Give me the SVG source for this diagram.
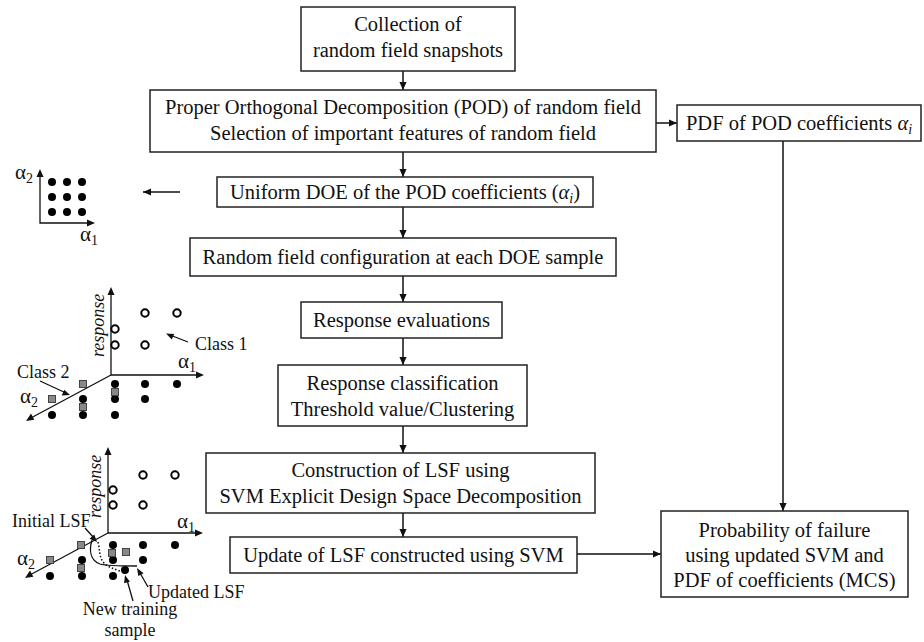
<svg xmlns="http://www.w3.org/2000/svg" width="924" height="642" viewBox="0 0 924 642">
<defs>
<marker id="ah" viewBox="0 0 10 10" refX="10" refY="5" markerWidth="8" markerHeight="8" markerUnits="userSpaceOnUse" orient="auto"><path d="M0,0.5 L10,5 L0,9.5 z" fill="#111"/></marker>
<style>
.box{fill:#fff;stroke:#222;stroke-width:1.5}
.t{font-family:"Liberation Serif","Times New Roman",serif;font-size:20.5px;fill:#111;text-anchor:middle}
.s{font-family:"Liberation Serif","Times New Roman",serif;font-size:18px;fill:#111}
.g{font-family:"Liberation Serif","Times New Roman",serif;font-size:21px;fill:#111}
.sub{font-size:14px}
.c{fill:none;stroke:#111;stroke-width:1.5}
.ax{fill:none;stroke:#111;stroke-width:1.3}
.dot{fill:#000}
.oc{fill:#fff;stroke:#000;stroke-width:2}
.sq{fill:#888;stroke:#444;stroke-width:1}
</style>
</defs>
<rect width="924" height="642" fill="#fff"/>

<g id="connectors">
<line class="c" x1="403" y1="71" x2="403" y2="90" marker-end="url(#ah)"/>
<line class="c" x1="403" y1="152" x2="403" y2="177" marker-end="url(#ah)"/>
<line class="c" x1="403" y1="207" x2="403" y2="238" marker-end="url(#ah)"/>
<line class="c" x1="403" y1="276" x2="403" y2="302" marker-end="url(#ah)"/>
<line class="c" x1="403" y1="338" x2="403" y2="365" marker-end="url(#ah)"/>
<line class="c" x1="403" y1="426" x2="403" y2="453" marker-end="url(#ah)"/>
<line class="c" x1="403" y1="513" x2="403" y2="537" marker-end="url(#ah)"/>
<line class="c" x1="656" y1="123" x2="677" y2="123" marker-end="url(#ah)"/>
<line class="c" x1="783" y1="141" x2="783" y2="511" marker-end="url(#ah)"/>
<line class="c" x1="577" y1="554" x2="661" y2="554" marker-end="url(#ah)"/>
<line class="c" x1="180" y1="192" x2="143" y2="192" marker-end="url(#ah)"/>
</g>

<g id="n1"><rect class="box" x="301" y="7" width="214" height="64"/>
<text class="t" x="408" y="31">Collection of</text><text class="t" x="408" y="57">random field snapshots</text></g>

<g id="n2"><rect class="box" x="150" y="90" width="506" height="62"/>
<text class="t" x="403" y="114">Proper Orthogonal Decomposition (POD) of random field</text>
<text class="t" x="403" y="140">Selection of important features of random field</text></g>

<g id="n3"><rect class="box" x="217" y="177" width="376" height="30"/>
<text class="t" x="405" y="199">Uniform DOE of the POD coefficients (<tspan font-style="italic">α</tspan><tspan class="sub" font-style="italic" dy="4">i</tspan><tspan dy="-4">)</tspan></text></g>

<g id="n4"><rect class="box" x="190" y="238" width="426" height="38"/>
<text class="t" x="403" y="264">Random field configuration at each DOE sample</text></g>

<g id="n5"><rect class="box" x="301" y="302" width="201" height="36"/>
<text class="t" x="401.5" y="327">Response evaluations</text></g>

<g id="n6"><rect class="box" x="278" y="365" width="249" height="61"/>
<text class="t" x="402.5" y="390">Response classification</text>
<text class="t" x="402.5" y="416">Threshold value/Clustering</text></g>

<g id="n7"><rect class="box" x="206" y="453" width="389" height="60"/>
<text class="t" x="400.5" y="477">Construction of LSF using</text>
<text class="t" x="400.5" y="503">SVM Explicit Design Space Decomposition</text></g>

<g id="n8"><rect class="box" x="230" y="537" width="347" height="36"/>
<text class="t" x="403.5" y="562">Update of LSF constructed using SVM</text></g>

<g id="n9"><rect class="box" x="677" y="105" width="244" height="36"/>
<text class="t" x="799" y="130">PDF of POD coefficients <tspan font-style="italic">α</tspan><tspan class="sub" font-style="italic" dy="4">i</tspan></text></g>

<g id="n10"><rect class="box" x="661" y="511" width="247" height="86"/>
<text class="t" x="784.5" y="537">Probability of failure</text>
<text class="t" x="784.5" y="562">using updated SVM and</text>
<text class="t" x="784.5" y="587">PDF of coefficients (MCS)</text></g>

<g id="plot-doe">
<polyline class="ax" points="40,172 40,223 93,223"/>
<path d="M40,169 l-3.5,8 h7 z M95,223 l-8,-3.5 v7 z" fill="#111"/>
<text class="g" x="15" y="179">α<tspan class="sub" dy="4">2</tspan></text>
<text class="g" x="80" y="241">α<tspan class="sub" dy="4">1</tspan></text>
<circle class="dot" cx="52" cy="182" r="4"/><circle class="dot" cx="67" cy="182" r="4"/><circle class="dot" cx="82" cy="182" r="4"/>
<circle class="dot" cx="52" cy="197" r="4"/><circle class="dot" cx="67" cy="197" r="4"/><circle class="dot" cx="82" cy="197" r="4"/>
<circle class="dot" cx="52" cy="212" r="4"/><circle class="dot" cx="67" cy="212" r="4"/><circle class="dot" cx="82" cy="212" r="4"/>
</g>

<g id="plot-classes">
<polyline class="ax" points="111,290 111,375 201,375"/>
<line class="ax" x1="111" y1="375" x2="29" y2="419"/>
<path d="M111,287 l-3.5,8 h7 z M204,375 l-8,-3.5 v7 z M26,421 l5,-7.5 l3.3,6.2 z" fill="#111"/>
<text class="s" font-style="italic" font-size="20" transform="translate(104,357) rotate(-90)">response</text>
<text class="g" x="178" y="368">α<tspan class="sub" dy="4">1</tspan></text>
<text class="g" x="20" y="403">α<tspan class="sub" dy="4">2</tspan></text>
<text class="s" x="195" y="350">Class 1</text>
<line class="ax" x1="188" y1="342" x2="170" y2="335"/>
<path d="M166,333.5 l8.2,0.4 l-2.4,5.5 z" fill="#111"/>
<text class="s" x="17" y="378">Class 2</text>
<line class="ax" x1="40" y1="381" x2="66" y2="393"/>
<path d="M70,395 l-8.3,0.4 l2.6,-5.6 z" fill="#111"/>
<circle class="oc" cx="145" cy="313" r="3.7"/><circle class="oc" cx="177" cy="313" r="3.7"/>
<circle class="oc" cx="115" cy="329" r="3.7"/><circle class="oc" cx="115" cy="345" r="3.7"/><circle class="oc" cx="145" cy="345" r="3.7"/>
<circle class="dot" cx="115" cy="384" r="4"/><circle class="dot" cx="145" cy="384" r="4"/><circle class="dot" cx="177" cy="384" r="4"/>
<circle class="dot" cx="115" cy="399" r="4"/><circle class="dot" cx="145" cy="399" r="4"/><circle class="dot" cx="83" cy="399" r="4"/>
<circle class="dot" cx="52" cy="415" r="4"/><circle class="dot" cx="83" cy="415" r="4"/><circle class="dot" cx="115" cy="415" r="4"/>
<rect class="sq" x="79.5" y="380.5" width="7" height="7"/>
<rect class="sq" x="48.5" y="395.5" width="7" height="7"/>
<rect class="sq" x="111.5" y="388.5" width="7" height="7"/>
<rect class="sq" x="79.5" y="403.5" width="7" height="7"/>
</g>

<g id="plot-lsf">
<polyline class="ax" points="108,450 108,533 200,533"/>
<line class="ax" x1="108" y1="533" x2="28" y2="576"/>
<path d="M108,447 l-3.5,8 h7 z M203,533 l-8,-3.5 v7 z M25,578 l5,-7.5 l3.3,6.2 z" fill="#111"/>
<text class="s" font-style="italic" font-size="20" transform="translate(101,518) rotate(-90)">response</text>
<text class="g" x="177" y="528">α<tspan class="sub" dy="4">1</tspan></text>
<text class="g" x="17" y="565">α<tspan class="sub" dy="4">2</tspan></text>
<circle class="oc" cx="143" cy="475" r="3.7"/><circle class="oc" cx="175" cy="475" r="3.7"/>
<circle class="oc" cx="113" cy="490" r="3.7"/><circle class="oc" cx="113" cy="505" r="3.7"/><circle class="oc" cx="143" cy="505" r="3.7"/>
<circle class="dot" cx="113" cy="545" r="4"/><circle class="dot" cx="143" cy="545" r="4"/><circle class="dot" cx="175" cy="545" r="4"/>
<circle class="dot" cx="82" cy="560" r="4"/><circle class="dot" cx="113" cy="560" r="4"/><circle class="dot" cx="143" cy="560" r="4"/>
<circle class="dot" cx="50" cy="576" r="4"/><circle class="dot" cx="82" cy="576" r="4"/><circle class="dot" cx="113" cy="576" r="4"/>
<circle class="dot" cx="125" cy="570" r="4"/>
<rect class="sq" x="77.5" y="541.5" width="7" height="7"/>
<rect class="sq" x="46.5" y="556.5" width="7" height="7"/>
<rect class="sq" x="108.5" y="549.5" width="7" height="7"/>
<rect class="sq" x="122.5" y="548.5" width="7" height="7"/>
<rect class="sq" x="77.5" y="564.5" width="7" height="7"/>
<path class="ax" d="M92,540 C89,550 90,560 100,564 C106,566 115,566 137,566"/>
<path d="M98,542 C100,550 99,558 104,563 C108,567 114,569 120,571" fill="none" stroke="#111" stroke-width="1.6" stroke-dasharray="1.5,2"/>
<text class="s" x="12" y="527">Initial LSF</text>
<line class="ax" x1="85" y1="528" x2="94" y2="538"/>
<path d="M97,542 l-7.5,-3.3 l4.8,-4.2 z" fill="#111"/>
<text class="s" x="148" y="598">Updated LSF</text>
<line class="ax" x1="148" y1="587" x2="140" y2="573"/>
<path d="M137,568 l6.6,5.2 l-5.3,2.8 z" fill="#111"/>
<text class="s" x="130" y="615" text-anchor="middle">New training</text>
<text class="s" x="130" y="636" text-anchor="middle">sample</text>
<line class="ax" x1="133" y1="601" x2="127" y2="580"/>
<path d="M125,575 l4.9,6.8 l-5.8,1.4 z" fill="#111"/>
</g>
</svg>
